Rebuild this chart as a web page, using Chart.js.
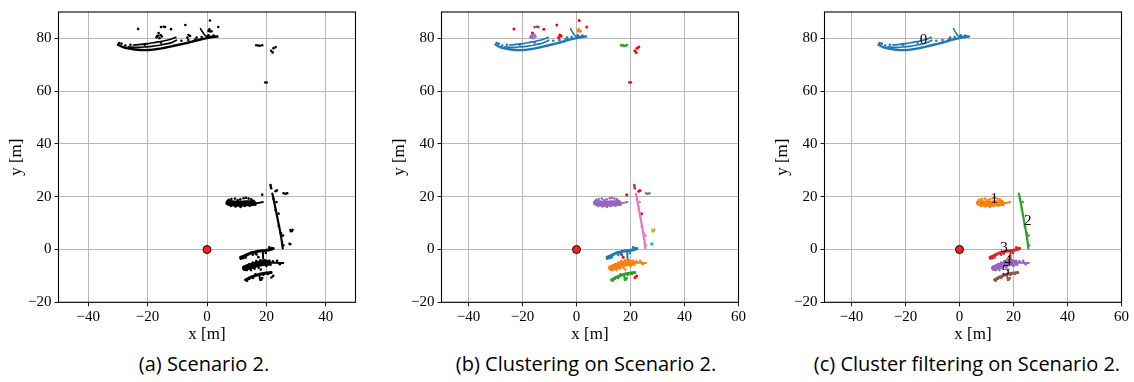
<!DOCTYPE html>
<html>
<head>
<meta charset="utf-8">
<script src="https://cdn.jsdelivr.net/npm/chart.js@4.4.1/dist/chart.umd.min.js"></script>
<style>
  body { margin: 0; background: #fff; width: 1134px; height: 382px; position: relative; overflow: hidden; }
  canvas { position: absolute; top: 0; }
  .cap { position: absolute; top: 350px; font-family: "Open Sans", sans-serif; font-size: 20px; color: #000; transform: translateX(-50%); white-space: nowrap; }
</style>
</head>
<body>
<canvas id="chartA" width="370" height="345" style="left:0px"></canvas>
<canvas id="chartB" width="370" height="345" style="left:383px"></canvas>
<canvas id="chartC" width="370" height="345" style="left:766px"></canvas>
<div class="cap" style="left:204px">(a) Scenario 2.</div>
<div class="cap" style="left:586px">(b) Clustering on Scenario 2.</div>
<div class="cap" style="left:967px">(c) Cluster filtering on Scenario 2.</div>
<script>
// axis ticks
const xTicksA = [-40, -20, 0, 20, 40];
const xTicksBC = [-40, -20, 0, 20, 40, 60];
const yTicks = [-20, 0, 20, 40, 60, 80];

// point clouds in metres
// cluster 0: far arcs at the top
const c0ArcOuter = [[-30.0,77.6],[-28.3,76.7],[-26.6,76.2],[-24.4,75.8],[-22.3,75.6],[-19.8,75.6],[-17.3,75.9],[-14.8,76.3],[-12.4,76.9],[-9.9,77.5],[-7.4,78.1],[-5.0,78.8],[-2.5,79.5],[0,80.1],[2.5,80.6],[3.5,80.7]];
const c0ArcInner = [[-26.5,76.8],[-23.5,76.6],[-20.5,76.8],[-18.6,77.0],[-16,77.4],[-13.6,77.9],[-11.5,78.6],[-10.3,79.3]];
const c0ArcUpper = [[-24.8,77.5],[-22.3,77.7],[-19.8,78.0],[-17.3,78.5],[-14.8,79.0],[-12.5,79.6],[-10.5,80.4]];
const c0Hook = [[-2.2,83.7],[-1.6,82.6],[-1.0,81.6],[-0.4,80.9],[1.2,80.7],[3.1,80.8]];
const c0Dots = [[-29.6,78.2],[-28.8,78.0],[-27.5,77.3],[-25.8,77.6],[-21,77.6],[-15.5,78.4],[-8.6,79.1],[-6.3,79.4],[-4,79.6],[-3.5,80.3],[-1.8,80.5],[0.5,81.2],[2.2,81.1]];

// cluster 1: wall around y=18
const c1Body = [[7.2,17.7],[9,17.4],[11,17.3],[13,17.5],[15.5,17.6]];
const c1Tail = [[15.5,17.6],[17,17.6],[18.8,18.0]];
const c1Dots = [[7.3,18.8],[8.2,19.1],[9.4,19.3],[10.3,18.7],[11.2,19.0],[12.3,19.4],[13.1,19.6],[14.0,19.3],[14.9,19.0],[15.6,18.5],[8.0,16.5],[9.6,16.3],[11.3,16.1],[12.7,16.5],[14.4,16.6],[16.3,17.0]];

// cluster 2: slanted line
const c2Line = [[22.0,21.2],[22.9,16.5],[23.7,12.0],[24.5,7.5],[25.1,3.8],[25.5,0.4]];
const c2Dots = [[22.4,19.2],[23.1,15.0],[24.2,8.8],[24.9,6.2],[25.6,5.3],[25.7,1.6],[23.4,18.0]];

// cluster 3: arc near y=0
const c3Arc = [[11.3,-3.0],[12.6,-2.4],[14.6,-1.4],[16.6,-0.8],[18.6,-0.5],[20.6,-0.2],[22.3,0.4]];
const c3Stem = [[18.8,-0.6],[18.9,-3.6]];
const c3Dots = [[11.4,-3.5],[12.2,-3.3],[13.0,-3.0],[13.4,-2.2],[15.4,-2.0],[16.4,-1.6],[19.8,-1.3],[21.0,0.8],[21.8,0.6]];

// cluster 4: blob around y=-5
const c4Body = [[12.8,-7.0],[14.5,-6.4],[16.5,-5.7],[18.5,-5.2],[20.5,-5.0]];
const c4Tail = [[20.5,-5.0],[23,-5.0],[25.7,-5.1]];
const c4Dots = [[13.4,-7.8],[14.8,-7.8],[16.0,-7.3],[17.4,-6.9],[18.1,-7.6],[14.3,-5.5],[15.4,-4.9],[16.6,-4.4],[18.0,-4.1],[19.5,-4.1],[21.0,-4.3],[22.2,-4.5],[23.6,-4.3],[20.0,-6.2],[21.4,-5.8],[24.5,-5.6]];

// cluster 5: lowest arc
const c5Arc = [[13.0,-11.5],[14.8,-10.5],[17.0,-9.6],[19.5,-9.0],[21.6,-8.7]];
const c5Stem = [[17.6,-9.6],[17.9,-11.6]];
const c5Dots = [[13.5,-11.8],[14.2,-11.1],[15.5,-10.8],[16.3,-9.4],[18.6,-10.8],[18.3,-11.4],[19.0,-9.6],[20.5,-9.3]];

// small clusters dropped by the filter
const sPurple = [[-17.0,80.4],[-16.4,81.0],[-15.6,81.3],[-16.0,80.1],[-15.2,80.7],[-16.8,80.9]];
const sBrownTop = [[-15.5,84.3],[-14.6,84.4],[-14.1,84.3]];
const sOrange = [[0.5,82.8],[1.1,82.6],[0.8,83.4],[1.5,82.7]];
const sGreen = [[16.6,77.4],[17.2,77.3],[17.8,77.2],[18.6,77.4]];
const sDarkRed = [[19.6,63.3],[20.1,63.3]];
const sBrownMid = [[21.4,24.4],[21.5,23.8],[21.6,23.2]];
const sGray = [[25.8,21.3],[26.4,21.1],[27.0,21.3]];
const sOlive = [[28.1,7.4],[28.6,7.0],[28.8,7.5],[28.3,6.9]];
const sCyan = [[27.8,2.2],[28.0,2.0]];

// noise points
const noise = [[-23.2,83.6],[-16.3,82.0],[-12.1,83.5],[-7.3,85.1],[-6.2,81.3],[-6.6,80.3],[-5.7,80.9],[1.0,86.8],[3.8,84.3],[22.4,76.3],[23.1,76.7],[21.6,75.3],[22.1,74.7],[18.6,20.8],[23.1,22.1],[23.5,22.4],[24.1,13.6],[16.7,-1.9],[17.3,-2.9],[21.7,-10.6],[22.3,-10.0]];

// cluster ids shown in panel (c)
const labelTexts = ['0', '1', '2', '3', '4', '5'];
const labelXs = [-13.3, 12.9, 25.3, 16.5, 17.9, 17.1];
const labelYs = [79.5, 19.1, 10.6, 0.4, -4.4, -8.1];

const tab = {
  blue: '#1f77b4', orange: '#ff7f0e', green: '#2ca02c', red: '#d62728', purple: '#9467bd',
  brown: '#8c564b', pink: '#e377c2', gray: '#7f7f7f', olive: '#bcbd22', cyan: '#17becf'
};

const clusters = [
  { lines: [[c0ArcOuter, 2.4], [c0ArcInner, 1.7], [c0ArcUpper, 1.7], [c0Hook, 1.6]], dots: c0Dots },
  { lines: [[c1Body, 6], [c1Tail, 2]], dots: c1Dots },
  { lines: [[c2Line, 2.2]], dots: c2Dots },
  { lines: [[c3Arc, 3], [c3Stem, 2]], dots: c3Dots },
  { lines: [[c4Body, 6], [c4Tail, 2]], dots: c4Dots },
  { lines: [[c5Arc, 3], [c5Stem, 2]], dots: c5Dots }
];
const smallClusters = [sPurple, sBrownTop, sOrange, sGreen, sDarkRed, sBrownMid, sGray, sOlive, sCyan];

const toPts = arr => arr.map(([x, y]) => ({ x, y }));

function lineSet(arr, color, w) {
  return { data: toPts(arr), showLine: true, borderColor: color, borderWidth: w, pointRadius: 0,
           tension: 0.3, fill: false, borderCapStyle: 'round', borderJoinStyle: 'round' };
}
function dotSet(arr, color, r) {
  return { data: toPts(arr), showLine: false, backgroundColor: color, borderWidth: 0, pointRadius: r };
}

function clusterSets(colors) {
  const sets = [];
  clusters.forEach((c, i) => {
    c.lines.forEach(([pts, w]) => sets.push(lineSet(pts, colors[i], w)));
    sets.push(dotSet(c.dots, colors[i], 1.3));
  });
  return sets;
}

const egoSets = () => [
  { data: [{ x: 0, y: 0 }], pointStyle: 'circle', pointRadius: 4, backgroundColor: '#e8262a', borderColor: '#3a0000', borderWidth: 1 },
  { data: [{ x: 0, y: 0 }], pointStyle: 'cross', pointRadius: 4, borderColor: '#000', borderWidth: 1.5 }
];

const fmt = v => v < 0 ? '\u2212' + Math.abs(v) : String(v);
const tickFont = { family: '"Liberation Serif", serif', size: 15 };
const titleFont = { family: '"Liberation Serif", serif', size: 17 };

function makeScales(xMax, xTicks) {
  return {
    x: {
      type: 'linear', min: -50, max: xMax,
      afterBuildTicks: s => { s.ticks = xTicks.map(v => ({ value: v })); },
      afterFit: s => { s.height = 42.7; },
      grid: { color: '#b0b0b0', lineWidth: 0.9, tickColor: '#000', tickLength: 4 },
      border: { display: false },
      ticks: { font: tickFont, color: '#000', padding: 2, autoSkip: false, maxRotation: 0, callback: fmt },
      title: { display: true, text: 'x [m]', font: titleFont, color: '#000', padding: { top: 0, bottom: 0.5 } }
    },
    y: {
      type: 'linear', min: -20, max: 90,
      afterBuildTicks: s => { s.ticks = yTicks.map(v => ({ value: v })); },
      afterFit: s => { s.width = 58.5; },
      grid: { color: '#b0b0b0', lineWidth: 0.9, tickColor: '#000', tickLength: 4 },
      border: { display: false },
      ticks: { font: tickFont, color: '#000', padding: 3, autoSkip: false, callback: fmt },
      title: { display: true, text: 'y [m]', font: titleFont, color: '#000', padding: { top: 6, bottom: 0 } }
    }
  };
}

// black frame on all four sides, like matplotlib spines
const spines = {
  id: 'spines',
  afterDraw(chart) {
    const { ctx, chartArea: a } = chart;
    ctx.save();
    ctx.strokeStyle = '#000';
    ctx.lineWidth = 1.1;
    ctx.strokeRect(a.left, a.top, a.right - a.left, a.bottom - a.top);
    ctx.restore();
  }
};

const clusterIds = {
  id: 'clusterIds',
  afterDatasetsDraw(chart) {
    const { ctx, scales } = chart;
    ctx.save();
    ctx.fillStyle = '#000';
    ctx.font = '15px "Liberation Serif", serif';
    ctx.textAlign = 'center';
    ctx.textBaseline = 'middle';
    labelTexts.forEach((t, i) => {
      ctx.fillText(t, scales.x.getPixelForValue(labelXs[i]), scales.y.getPixelForValue(labelYs[i]));
    });
    ctx.restore();
  }
};

function makeChart(id, datasets, xMax, xTicks, extra) {
  return new Chart(document.getElementById(id), {
    type: 'scatter',
    data: { datasets },
    options: {
      responsive: false,
      animation: false,
      layout: { padding: { top: 7, right: 14.5, left: 0, bottom: 0 } },
      scales: makeScales(xMax, xTicks),
      plugins: { legend: { display: false }, tooltip: { enabled: false } }
    },
    plugins: [spines].concat(extra || [])
  });
}

// (a) raw scan, everything black
const setsA = clusterSets(Array(6).fill('#000'))
  .concat(smallClusters.map(s => dotSet(s, '#000', 1.3)))
  .concat([dotSet(noise, '#000', 1.3)])
  .concat(egoSets());
makeChart('chartA', setsA, 50, xTicksA);

// (b) clustering result
const smallColors = [tab.purple, tab.brown, tab.orange, tab.green, tab.red, tab.brown, tab.gray, tab.olive, tab.cyan];
const setsB = clusterSets([tab.blue, tab.purple, tab.pink, tab.blue, tab.orange, tab.green])
  .concat(smallClusters.map((s, i) => dotSet(s, smallColors[i], 1.4)))
  .concat([dotSet(noise, '#ff0000', 1.5)])
  .concat(egoSets());
makeChart('chartB', setsB, 60, xTicksBC);

// (c) filtered clusters with ids
const setsC = clusterSets([tab.blue, tab.orange, tab.green, tab.red, tab.purple, tab.brown])
  .concat(egoSets());
makeChart('chartC', setsC, 60, xTicksBC, [clusterIds]);
</script>
</body>
</html>
